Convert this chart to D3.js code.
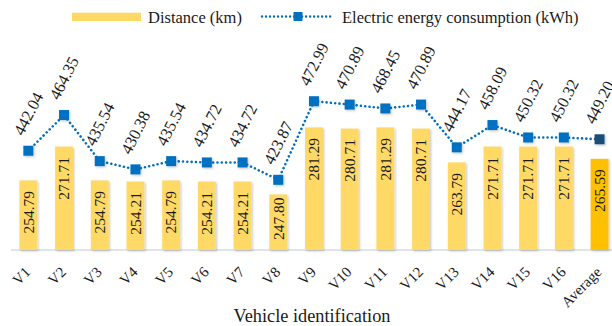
<!DOCTYPE html>
<html>
<head>
<meta charset="utf-8">
<script src="https://cdn.jsdelivr.net/npm/d3@7"></script>
<style>
  html, body { margin: 0; padding: 0; background: #fff; }
  svg { display: block; font-family: "Liberation Serif", "Times New Roman", serif; }
</style>
</head>
<body>
<svg id="chart" width="612" height="326"></svg>
<script>
// Vehicles and their measured values
const categories = ["V1","V2","V3","V4","V5","V6","V7","V8","V9","V10","V11","V12","V13","V14","V15","V16","Average"];
const distanceKm = [254.79, 271.71, 254.79, 254.21, 254.79, 254.21, 254.21, 247.80, 281.29, 280.71, 281.29, 280.71, 263.79, 271.71, 271.71, 271.71, 265.59];
const energyKWh = [442.04, 464.35, 435.54, 430.38, 435.54, 434.72, 434.72, 423.87, 472.99, 470.89, 468.45, 470.89, 444.17, 458.09, 450.32, 450.32, 449.20];
const legendLabels = ["Distance (km)", "Electric energy consumption (kWh)"];
const xTitle = "Vehicle identification";

const svg = d3.select("#chart");

const barColor = "#FFD966", avgBarColor = "#FFC000";
const lineColor = "#0070C0", avgMarkerColor = "#1F4E79";

const defs = svg.append("defs");
const shadow = defs.append("filter").attr("id", "soft")
  .attr("x", "-30%").attr("y", "-30%").attr("width", "160%").attr("height", "160%");
shadow.append("feDropShadow").attr("dx", 1.2).attr("dy", 1.2)
  .attr("stdDeviation", 1.2).attr("flood-color", "#000").attr("flood-opacity", 0.22);

// Scales
const x = d3.scaleBand().domain(categories).range([10.5, 617.4])
  .paddingInner(0.5).paddingOuter(0.25);
const yDist = d3.scaleLinear().domain([220, 300]).range([250, 90]);
const yEnergy = d3.scaleLinear().domain([380, 480]).range([250, 90]);
const cx = c => x(c) + x.bandwidth() / 2;

// Category axis line
svg.append("line")
  .attr("x1", 11).attr("x2", 612).attr("y1", 250).attr("y2", 250)
  .attr("stroke", "#D6DCE5").attr("stroke-width", 1.5);

// Distance bars
const bars = svg.append("g");
bars.selectAll("rect").data(categories).join("rect")
  .attr("x", c => x(c))
  .attr("y", (c, i) => yDist(distanceKm[i]))
  .attr("width", x.bandwidth())
  .attr("height", (c, i) => yDist.range()[0] - yDist(distanceKm[i]))
  .attr("fill", (c, i) => c === "Average" ? avgBarColor : barColor)
  .attr("filter", "url(#soft)");

// Bar value labels, vertical inside the top of each bar;
// short bars push the label up so it stays clear of the axis
const labelLen = 42.6;
bars.selectAll("text").data(categories).join("text")
  .attr("transform", (c, i) => {
    const end = Math.min(yDist(distanceKm[i]) + 10.5, 240 - labelLen);
    return `translate(${cx(c)},${end}) rotate(-90)`;
  })
  .attr("text-anchor", "end")
  .attr("dy", "0.34em")
  .attr("font-size", 15.5)
  .attr("fill", "#1a1a1a")
  .text((c, i) => distanceKm[i].toFixed(2));

// Energy consumption line
const line = d3.line().x(c => cx(c)).y((c, i) => yEnergy(energyKWh[i]));
svg.append("path")
  .datum(categories)
  .attr("d", line)
  .attr("fill", "none")
  .attr("stroke", lineColor)
  .attr("stroke-width", 2.6)
  .attr("stroke-linecap", "round")
  .attr("stroke-dasharray", "0.01 4.3");

// Square markers
const mk = 10;
svg.append("g").selectAll("rect").data(categories).join("rect")
  .attr("x", c => cx(c) - mk / 2)
  .attr("y", (c, i) => yEnergy(energyKWh[i]) - mk / 2)
  .attr("width", mk).attr("height", mk)
  .attr("fill", c => c === "Average" ? avgMarkerColor : lineColor)
  .attr("filter", "url(#soft)");

// Energy value labels, slanted above each marker
svg.append("g").selectAll("text").data(categories).join("text")
  .attr("transform", (c, i) => `translate(${cx(c)},${yEnergy(energyKWh[i]) - 37}) rotate(-63)`)
  .attr("text-anchor", "middle")
  .attr("dy", "0.34em")
  .attr("font-size", 16.5)
  .attr("fill", "#1a1a1a")
  .text((c, i) => energyKWh[i].toFixed(2));

// Category tick labels
svg.append("g").selectAll("text").data(categories).join("text")
  .attr("transform", c => `translate(${cx(c) + 3},${273}) rotate(-45)`)
  .attr("text-anchor", "end")
  .attr("font-size", 15)
  .attr("fill", "#1a1a1a")
  .text(c => c);

// Axis title
svg.append("text")
  .attr("x", 312).attr("y", 322)
  .attr("text-anchor", "middle")
  .attr("font-size", 18.3)
  .attr("fill", "#1a1a1a")
  .text(xTitle);

// Legend
const legend = svg.append("g");
legend.append("rect")
  .attr("x", 72).attr("y", 12.7).attr("width", 69).attr("height", 8.3)
  .attr("fill", barColor);
legend.append("text")
  .attr("x", 148).attr("y", 22.5)
  .attr("font-size", 16.5).attr("fill", "#1a1a1a")
  .text(legendLabels[0]);
legend.append("line")
  .attr("x1", 262).attr("x2", 331).attr("y1", 16.5).attr("y2", 16.5)
  .attr("stroke", lineColor).attr("stroke-width", 2.4)
  .attr("stroke-linecap", "round").attr("stroke-dasharray", "0.01 4");
legend.append("rect")
  .attr("x", 293.5).attr("y", 12).attr("width", 9).attr("height", 9)
  .attr("fill", lineColor);
legend.append("text")
  .attr("x", 342).attr("y", 22.5)
  .attr("font-size", 16.5).attr("fill", "#1a1a1a")
  .text(legendLabels[1]);
</script>
</body>
</html>
